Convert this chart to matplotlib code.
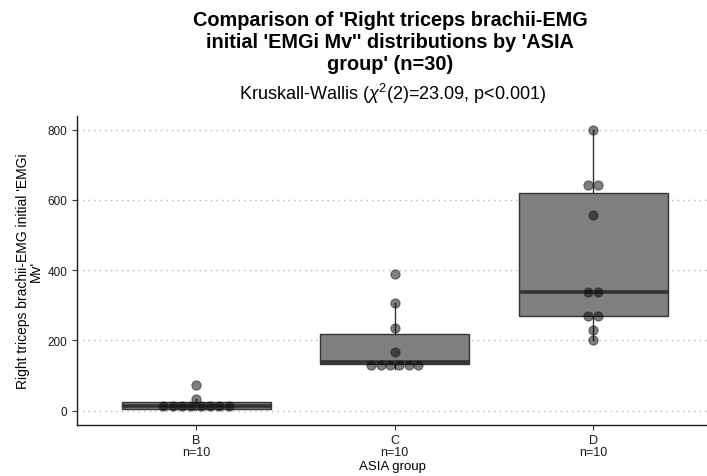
import numpy as np
import matplotlib
matplotlib.use("Agg")
import matplotlib.pyplot as plt

plt.rcParams['font.family'] = ['Liberation Sans', 'DejaVu Sans']
plt.rcParams['mathtext.fontset'] = 'custom'
plt.rcParams['mathtext.rm'] = 'Liberation Sans'
plt.rcParams['mathtext.it'] = 'Liberation Sans:italic'

# ---- data ----
groups = ['B', 'C', 'D']
counts = [10, 10, 10]
vals_B = [2, 3, 4, 8, 12, 16, 22, 26, 33, 72]
vals_C = [120, 128, 132, 136, 138, 140, 168, 236, 308, 390]
vals_D = [202, 231, 268, 272, 336, 342, 557, 642, 646, 800]
data = [vals_B, vals_C, vals_D]
yticks = [0, 200, 400, 600, 800]

title_lines = ["Comparison of 'Right triceps brachii-EMG",
               "initial 'EMGi Mv'' distributions by 'ASIA",
               "group' (n=30)"]
subtitle = r"Kruskall-Wallis ($\chi^2$(2)=23.09, p<0.001)"
ylabel = "Right triceps brachii-EMG initial 'EMGi\nMv'"
xlabel = "ASIA group"

W, H = 707, 477
fig = plt.figure(figsize=(W/100, H/100), dpi=100)
ax = fig.add_axes([77/W, 1-425.7/H, (707-77)/W, (425.7-116.7)/H])

allv = np.concatenate([np.array(d, float) for d in data])
ymin, ymax = allv.min(), allv.max()
ax.set_ylim(0 - 0.05*800, 800 + 0.05*800)
ax.set_xlim(0.4, 3.574)

pos = np.arange(1, len(groups)+1)
box_fill = '#7f7f7f'
edge = '#333333'
bp = ax.boxplot(data, positions=pos, widths=0.75, patch_artist=True,
                showfliers=False, whis=1.5,
                boxprops=dict(facecolor=box_fill, edgecolor=edge, linewidth=1.0),
                medianprops=dict(color=edge, linewidth=2.6),
                whiskerprops=dict(color=edge, linewidth=1.0),
                capprops=dict(linewidth=0), zorder=2)

# gridlines
for yv in yticks:
    ax.axhline(yv, color='#b3b3b3', linestyle=(0, (1, 3)), linewidth=1.0, zorder=0)

# dotplot (dotdensity binning, stackdir center)
binwidth = (ymax - ymin) / 30.0
fig.canvas.draw()
p0 = ax.transData.transform((1, 0))
p1 = ax.transData.transform((1, binwidth))
diam_px = abs(p1[1] - p0[1])
px_per_x = abs(ax.transData.transform((2, 0))[0] - ax.transData.transform((1, 0))[0])
dx = diam_px / px_per_x
diam_pt = diam_px * 72 / fig.dpi
for g, d in zip(pos, data):
    v = np.sort(np.array(d, float))
    i = 0
    while i < len(v):
        j = i
        while j + 1 < len(v) and v[j+1] < v[i] + binwidth:
            j += 1
        center = (v[i] + v[j]) / 2
        n = j - i + 1
        offs = (np.arange(n) - (n-1)/2) * dx
        ax.scatter(g + offs, np.full(n, center), s=(diam_pt*0.98)**2,
                   facecolor=(0, 0, 0, 0.5), edgecolor=(0.15, 0.15, 0.15, 0.6),
                   linewidth=0.8, zorder=3)
        i = j + 1

ax.set_yticks(yticks)
ax.set_xticks(pos)
ax.set_xticklabels([f"{g}\nn={c}" for g, c in zip(groups, counts)], linespacing=1.05)
ax.tick_params(axis='both', colors='#333333', length=3.5, width=0.8)
ax.tick_params(axis='x', labelcolor='#1a1a1a', labelsize=9, pad=3)
ax.tick_params(axis='y', labelcolor='#1a1a1a', labelsize=8.5)
for s in ['top', 'right']:
    ax.spines[s].set_visible(False)
for s in ['left', 'bottom']:
    ax.spines[s].set_color('#1a1a1a')
    ax.spines[s].set_linewidth(1.0)

ax.set_xlabel(xlabel, fontsize=9.5, labelpad=1)
ax.set_ylabel(ylabel, fontsize=10, labelpad=3, linespacing=0.95)

# titles
cx = 390/W
for k, (line, yb) in enumerate(zip(title_lines, [26, 48, 70])):
    fig.text(cx, 1-yb/H, line, ha='center', va='baseline', fontsize=14.3,
             fontweight='bold', color='black')
fig.text(393/W, 1-99.5/H, subtitle, ha='center', va='baseline', fontsize=13)

fig.savefig('out.png', dpi=100)
